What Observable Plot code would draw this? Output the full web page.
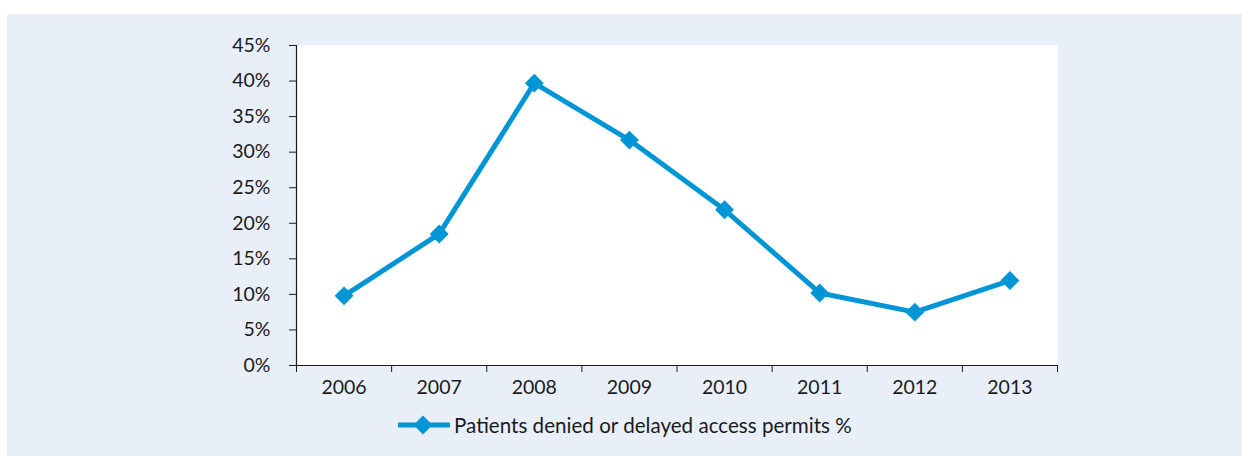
<!DOCTYPE html>
<html>
<head>
<meta charset="utf-8">
<script src="https://cdn.jsdelivr.net/npm/d3@7"></script>
<script src="https://cdn.jsdelivr.net/npm/@observablehq/plot@0.6"></script>
<style>
  html, body { margin: 0; padding: 0; background: #ffffff; }
  #wrap { position: relative; width: 1242px; height: 456px; overflow: hidden; font-family: Lato, "Open Sans", sans-serif; }
  #bg { position: absolute; left: 7px; top: 14px; right: 0; bottom: 0; background: #E9EFF9; }
  #chart { position: absolute; left: 0; top: 0; }
  #legend { position: absolute; left: 398px; top: 412px; height: 26px; display: flex; align-items: center; font-size: 20.6px; color: #1a1a1a; }
  #legend svg { display: block; margin-right: 4px; }
</style>
</head>
<body>
<div id="wrap">
  <div id="bg"></div>
  <div id="chart"></div>
  <div id="legend"></div>
</div>
<script>
const years = ["2006", "2007", "2008", "2009", "2010", "2011", "2012", "2013"];
const values = [9.8, 18.5, 39.7, 31.7, 21.9, 10.2, 7.5, 11.95];
const yTicks = [0, 5, 10, 15, 20, 25, 30, 35, 40, 45];
const seriesName = "Patients denied or delayed access permits %";

const color = "#0096D6";
const ink = "#1a1a1a";

const data = years.map((y, i) => ({year: y, idx: i + 0.5, value: values[i]}));
const boundaries = d3.range(0, years.length + 1);
const centers = years.map((_, i) => i + 0.5);

const plot = Plot.plot({
  width: 1242,
  height: 400,
  marginLeft: 296,
  marginRight: 185,
  marginTop: 45,
  marginBottom: 35,
  style: {background: "transparent", fontFamily: "Lato, 'Open Sans', sans-serif", fontSize: "19px", color: ink},
  x: {domain: [0, years.length]},
  y: {domain: [0, 45]},
  marks: [
    Plot.frame({fill: "white", stroke: "none"}),
    Plot.axisY({ticks: yTicks, tickFormat: d => d + "%", tickSize: 7, tickPadding: 19, stroke: ink, fill: ink, label: null, fontSize: 19.5}),
    Plot.axisX({ticks: boundaries, tickFormat: () => "", tickSize: 7, stroke: ink, label: null}),
    Plot.axisX({ticks: centers, tickFormat: d => years[Math.round(d - 0.5)], tickSize: 0, tickPadding: 15, fill: ink, label: null, fontSize: 19.5}),
    Plot.ruleY([0], {stroke: ink, strokeWidth: 1.2}),
    Plot.ruleX([0], {stroke: ink, strokeWidth: 1.2}),
    Plot.lineY(data, {x: "idx", y: "value", stroke: color, strokeWidth: 5, strokeLinejoin: "round"}),
    Plot.dot(data, {x: "idx", y: "value", symbol: "diamond2", r: 8.5, fill: color, stroke: "none"})
  ]
});
document.getElementById("chart").appendChild(plot);

// legend
const lg = document.getElementById("legend");
const sw = d3.create("svg").attr("width", 52).attr("height", 26);
sw.append("line").attr("x1", 1).attr("x2", 51).attr("y1", 13).attr("y2", 13).attr("stroke", color).attr("stroke-width", 5).attr("stroke-linecap", "round");
sw.append("path").attr("d", d3.symbol(d3.symbolDiamond2, Math.PI * 8.5 * 8.5)()).attr("transform", "translate(25,13)").attr("fill", color);
lg.appendChild(sw.node());
const span = document.createElement("span");
span.textContent = seriesName;
lg.appendChild(span);
</script>
</body>
</html>
